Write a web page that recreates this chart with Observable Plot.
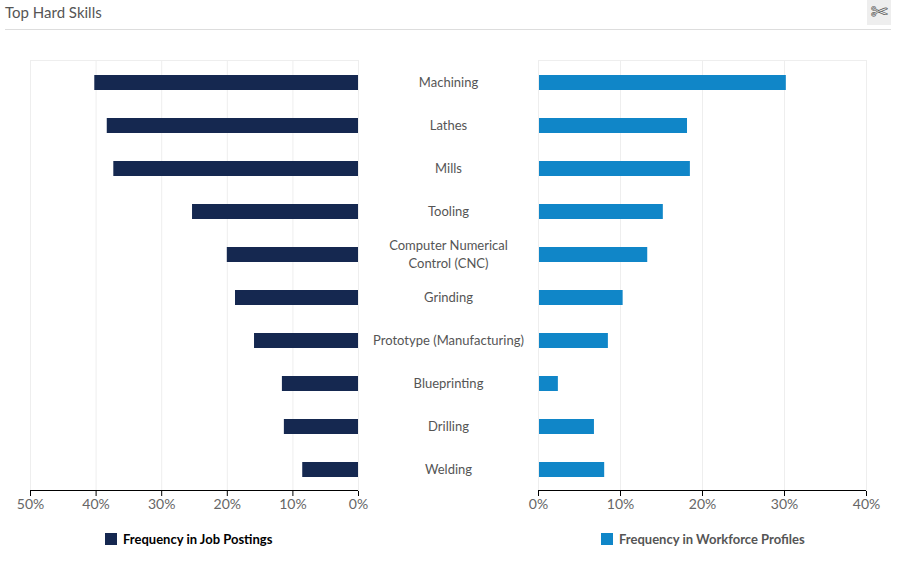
<!DOCTYPE html>
<html>
<head>
<meta charset="utf-8">
<script src="https://cdn.jsdelivr.net/npm/d3@7"></script>
<script src="https://cdn.jsdelivr.net/npm/@observablehq/plot@0.6"></script>
<style>
html,body{margin:0;padding:0;background:#fff;font-family:Lato,sans-serif;}
#root{position:relative;width:906px;height:564px;overflow:hidden;}
#title{position:absolute;left:5px;top:1px;font-size:15px;line-height:22px;color:#555;}
#rule{position:absolute;left:5px;top:29px;width:886px;height:1px;background:#ddd;}
#btn{position:absolute;left:867px;top:0;width:24px;height:25px;background:#eee;color:#555;font:21px/24px "DejaVu Sans";text-align:center;}
.pl{position:absolute;top:0;}
.lg{position:absolute;top:531px;font-size:13px;line-height:16px;font-weight:700;white-space:nowrap;display:flex;align-items:center;}
.lg i{display:inline-block;width:12px;height:12px;margin-right:6px;}
</style>
</head>
<body>
<div id="root">
  <div id="title">Top Hard Skills</div>
  <div id="rule"></div>
  <div id="btn">✄</div>
</div>
<script>
const skills = ["Machining","Lathes","Mills","Tooling","Computer Numerical\nControl (CNC)","Grinding","Prototype (Manufacturing)","Blueprinting","Drilling","Welding"];
const postings = [40.2,38.3,37.3,25.3,20,18.75,15.85,11.6,11.3,8.5];
const profiles = [30.1,18.05,18.4,15.1,13.2,10.2,8.4,2.3,6.7,7.95];
const leftTicks = [50,40,30,20,10,0];
const rightTicks = [0,10,20,30,40];
const seriesNames = ["Frequency in Job Postings","Frequency in Workforce Profiles"];
const seriesColors = ["#152850","#1086c8"];
const legendColors = ["#000","#555"];

const rows = skills.map((s,i)=>({skill:s,postings:postings[i],profiles:profiles[i]}));
const root = document.getElementById("root");
const pct = d=>d+"%";

function panel(key,domain,ticks,color,width,mLeft,mRight,extra,left,barDx){
  const [d0,d1] = domain;
  const svg = Plot.plot({
    width,height:520,marginTop:61,marginBottom:29,marginLeft:mLeft,marginRight:mRight,
    style:{background:"transparent",overflow:"visible",fontFamily:"Lato, sans-serif"},
    x:{domain,ticks},
    y:{domain:skills,paddingInner:0.65,paddingOuter:0.325,axis:null},
    marks:[
      Plot.ruleX(ticks,{x:d=>d,stroke:"#eeeeee",strokeWidth:1,insetTop:-1}),
      Plot.ruleY([skills[0]],{x1:d0,x2:d1,stroke:"#eeeeee",dy:-22.5}),
      Plot.barX(rows,{x1:0,x2:key,y:"skill",fill:color,dx:barDx}),
      ...extra,
      Plot.ruleY([skills[9]],{x1:d0,x2:d1,stroke:"#000",strokeWidth:1,dy:20.5}),
      Plot.axisX({ticks,anchor:"bottom",tickSize:5,tickPadding:3,tickFormat:pct,stroke:"#000",strokeOpacity:1,color:"#666",fontSize:14,label:null})
    ]
  });
  svg.classList.add("pl");
  svg.style.left = left+"px";
  root.appendChild(svg);
}

panel("postings",[50,0],leftTicks,seriesColors[0],540,30,182,[
  Plot.text(rows,{x:()=>0,y:"skill",text:"skill",dx:90,dy:-1.5,fontSize:13,fill:"#555",lineHeight:1.35,textAnchor:"middle",fontFamily:"Lato, sans-serif"})
],0,0);
panel("profiles",[0,40],rightTicks,seriesColors[1],406,38,40,[],500,1);

[[105,0],[601,1]].forEach(([x,i])=>{
  const d=document.createElement("div");
  d.className="lg";d.style.left=x+"px";d.style.color=legendColors[i];
  d.innerHTML=`<i style="background:${seriesColors[i]}"></i>${seriesNames[i]}`;
  root.appendChild(d);
});
</script>
</body>
</html>
